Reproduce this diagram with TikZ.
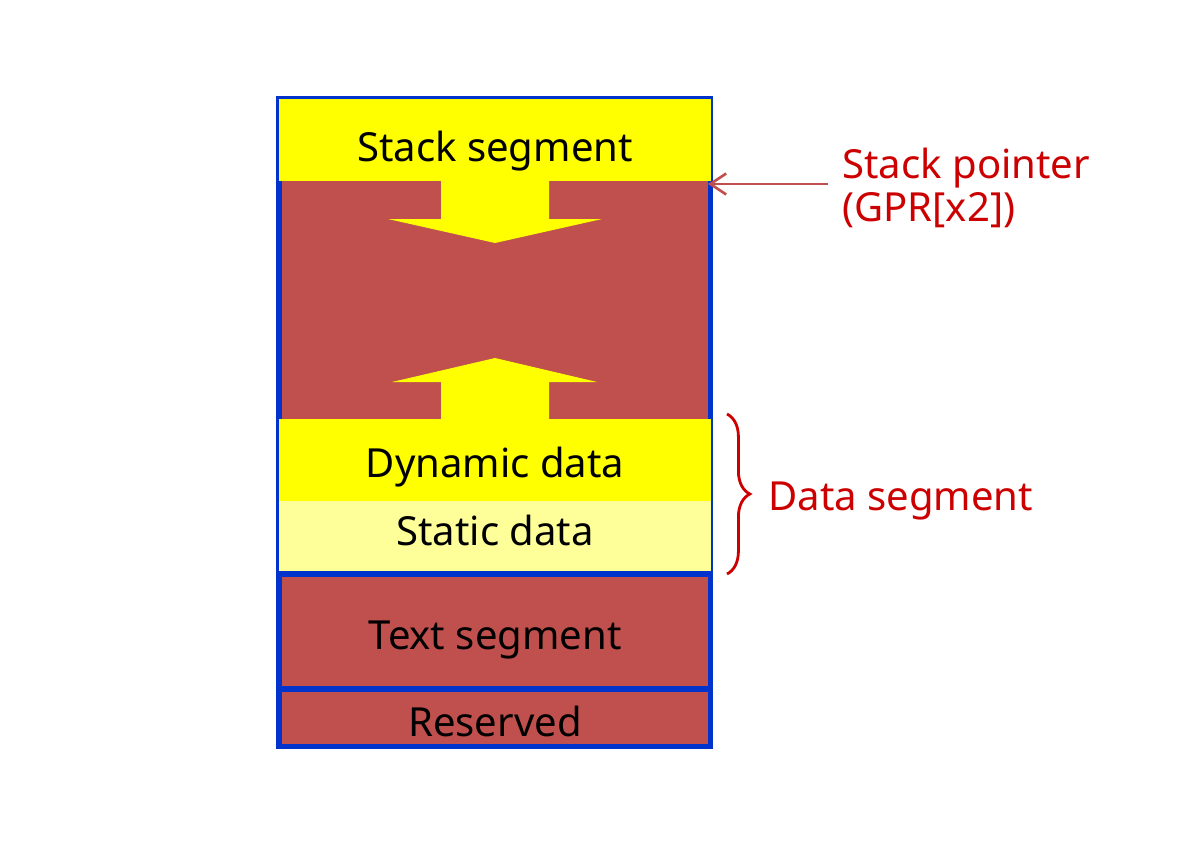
\documentclass[tikz,border=0pt]{standalone}
\usepackage{fontspec}
\setmainfont{Noto Sans}
\usetikzlibrary{arrows.meta,decorations.pathreplacing}

\definecolor{memRed}{RGB}{192,80,77}
\definecolor{memBlue}{RGB}{0,51,204}
\definecolor{memYellow}{RGB}{255,255,0}
\definecolor{memPale}{RGB}{255,255,153}
\definecolor{noteRed}{RGB}{204,0,0}

\begin{document}
\begin{tikzpicture}[x=0.02cm, y=-0.02cm, font=\fontsize{22.8}{24.4}\selectfont,
		segtext/.style={anchor=base, inner sep=0pt},
		note/.style={text=noteRed, align=left}]
		
		% --- Memory layout (coordinates in pixels, y grows downwards) ---
		\useasboundingbox (0,0) rectangle (1200,856);
		
		% Outer frame: the blue shows through between the segments
		\fill[memBlue] (276,96) rectangle (713,749);
		
		% Stack segment (top) and the free area below it
		\fill[memYellow] (279,99) rectangle (711,181);
		\fill[memRed] (282,181) rectangle (708,419);
		
		% Data segment: dynamic part and static part
		\fill[memYellow] (279,419) rectangle (711,501);
		\fill[memPale] (279,501) rectangle (711,571);
		
		% Text segment and reserved area
		\fill[memRed] (282,577) rectangle (708,686);
		\fill[memRed] (282,692) rectangle (708,744);
		
		% Stack grows down
		\fill[memYellow] (441,181) -- (549,181) -- (549,219) -- (602,219) -- (495,243)
		-- (388,219) -- (441,219) -- cycle;
		% Heap grows up
		\fill[memYellow] (441,419) -- (441,382) -- (392,382) -- (495,358) -- (597,382)
		-- (549,382) -- (549,419) -- cycle;
		
		% Segment labels
		\node[segtext] (stack) at (495,161) {Stack segment};
		\node[segtext] (dyn) at (495,477) {Dynamic data};
		\node[segtext] (static) at (495,545) {Static data};
		\node[segtext] (text) at (495,649) {Text segment};
		\node[segtext] (res) at (495,736) {Reserved};
		
		% Stack pointer note
		\coordinate (spTip) at (708,184);
		\node[note, anchor=west, inner xsep=8pt] (sp) at (828,188) {Stack pointer\\(GPR[x2])};
		\draw[memRed, line width=1.5pt, -{Straight Barb[length=9pt,width=12pt]}]
		(sp.west |- spTip) -- (spTip);
		
		% Brace over the data segment
		\coordinate (dTop) at (727,414);
		\coordinate (dBot) at (727,574);
		\draw[noteRed, line width=1.6pt, decorate, decoration={brace, amplitude=13pt}]
		(dTop) -- (dBot);
		\node[note, anchor=base west, inner sep=0pt] (dseg) at (768,510) {Data segment};
		
	\end{tikzpicture}
\end{document}
